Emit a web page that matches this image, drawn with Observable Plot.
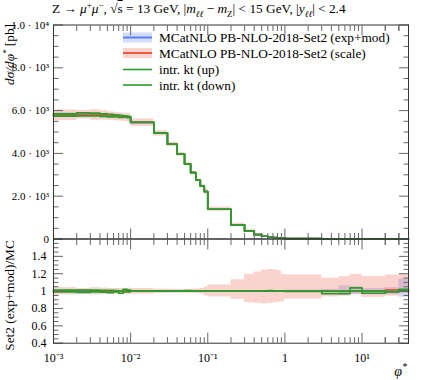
<!DOCTYPE html>
<html><head><meta charset="utf-8">
<script src="https://cdn.jsdelivr.net/npm/d3@7"></script>
<script src="https://cdn.jsdelivr.net/npm/@observablehq/plot@0.6"></script>
<style>
body{margin:0;background:#fff;}
#wrap{position:relative;width:421px;height:380px;font-family:"Liberation Serif",serif;color:#000;overflow:hidden;}
#wrap > *{position:absolute;left:0;}
#title{top:1px;left:52px;font-size:13.3px;white-space:nowrap;line-height:16px;}
#title sub,#title sup{font-size:9px;line-height:0;}
</style></head><body>
<div id="wrap"><div id="title">Z → <i>μ</i><sup>+</sup><i>μ</i><sup>−</sup>, √<span style="text-decoration:overline">s</span> = 13 GeV, |<i>m</i><sub><i>ℓℓ</i></sub> − <i>m</i><sub>Z</sub>| &lt; 15 GeV, |<i>y</i><sub><i>ℓℓ</i></sub>| &lt; 2.4</div></div>
<script>
// ---- data ----
const edges = [0.001,0.002,0.003,0.004,0.005,0.006,0.007,0.008,0.009,0.01,0.02,0.03,0.04,0.05,0.06,0.07,0.08,0.09,0.1,0.2,0.3,0.4,0.5,0.6,0.7,0.8,0.9,1,3,5,7,10,20,30,40];
const mcMain    = [5800,5830,5810,5790,5770,5745,5725,5705,5685,5450,4950,4430,3970,3500,3100,2750,2480,2220,1390,656,375,200,128,92,70,55,44,18,5,2,1,0.4,0.12,0.06];
const scaleMain = [5800,5840,5810,5790,5760,5740,5720,5710,5690,5450,4950,4430,3970,3500,3100,2750,2480,2220,1390,656,375,200,128,92,70,55,44,18,5,2,1,0.4,0.12,0.06];
const upMain    = [5850,5900,5880,5850,5820,5800,5780,5760,5730,5455,4955,4432,3972,3505,3102,2752,2482,2220,1390,656,375,200,128,92,70,55,44,18,5,2,1.04,0.4,0.12,0.06];
const downMain  = [5740,5750,5750,5730,5710,5700,5680,5690,5670,5445,4945,4428,3968,3500,3098,2748,2478,2218,1390,656,375,200,128,92,70,55,44,18,4.9,1.95,1,0.39,0.12,0.06];
// ratio panel (to MC central)
const scaleLo = [0.955,0.962,0.955,0.96,0.962,0.962,0.962,0.962,0.962,0.965,0.972,0.975,0.975,0.975,0.975,0.972,0.965,0.945,0.933,0.904,0.867,0.86,0.852,0.86,0.865,0.872,0.878,0.908,0.933,0.941,0.963,0.927,0.941,0.97];
const scaleHi = [1.04,1.03,1.04,1.035,1.03,1.03,1.03,1.03,1.035,1.03,1.022,1.02,1.02,1.02,1.022,1.025,1.03,1.045,1.071,1.13,1.193,1.219,1.241,1.249,1.245,1.235,1.193,1.186,1.148,1.167,1.193,1.167,1.186,1.193];
const expLo = [0.985,0.992,0.992,0.992,0.993,0.993,0.993,0.993,0.993,0.995,0.995,0.995,0.995,0.995,0.995,0.995,0.995,0.995,0.995,0.995,0.995,0.995,0.995,0.995,0.995,0.995,0.995,0.99,0.98,0.95,0.96,0.97,0.96,0.93];
const expHi = [1.015,1.008,1.008,1.008,1.007,1.007,1.007,1.007,1.007,1.005,1.005,1.005,1.005,1.005,1.005,1.005,1.005,1.005,1.005,1.005,1.005,1.005,1.005,1.005,1.005,1.005,1.005,1.01,1.02,1.06,1.05,1.03,1.04,1.14];
const mcRatio    = [1,1,1,1,1,1,1,1,1,1,1,1,1,1,1,1,1,1,1,1,1,1,1,1,1,1,1,1,1,1,1,1,1,1];
const scaleRatio = [1.0,1.007,1.0,1.0,0.998,1.0,1.0,1.005,1.007,1,1,1,1,1,1,1,1,1,1,1,1,1,1,1,1,1,1,1,1,1,1,1,1.015,1.0];
const upRatio   = [1.012,1.012,1.012,1.01,1.008,1.006,1.0,1.02,1.012,1.002,1.002,1.0,1.002,1.005,1.004,1.0,1.0,1.0,1.0,1.0,1.0,1.0,1.003,1.005,1.0,1.0,1.0,1.0,1.0,1.0,1.038,1.0,0.995,1.02];
const downRatio = [0.99,0.985,0.99,0.988,0.982,0.99,0.975,0.99,0.992,0.998,0.998,1.0,0.998,1.0,0.998,0.998,1.0,0.998,0.998,0.998,0.998,0.998,0.998,1.0,1.0,0.998,0.998,0.997,0.97,0.97,1.0,0.975,0.99,1.0];
// ticks
const xMajor = [0.001,0.01,0.1,1,10];
const xMajorLabels = ["10⁻³","10⁻²","10⁻¹","1","10¹"];
const yMainTicks = [0,2000,4000,6000,8000,10000];
const yMainLabels = ["0","2.0 · 10³","4.0 · 10³","6.0 · 10³","8.0 · 10³","1.0 · 10⁴"];
const yRatioTicks = [0.4,0.6,0.8,1,1.2,1.4,1.6];
const yRatioLabels = ["0.4","0.6","0.8","1","1.2","1.4",""];

// ---- styling ----
const W = 421, ML = 53, MR = 13;
const FONT = "Liberation Serif, serif";
const xDomain = [0.001, 40];
const cBlue = "#5b7ff0", cRed = "#ee5a3f", cGreen = "#2e9a2e";
const fBlue = "rgba(80,120,240,0.25)", fRed = "rgba(240,80,60,0.25)";
const tickCol = "#666";
const xMinor = [];
for (const d of xMajor) for (let k = 2; k <= 9; k++) { const v = +(k*d).toPrecision(3); if (v <= 40) xMinor.push(v); }
xMinor.push(20,30,40);
const yMainMinor = d3.range(0, 10001, 500).filter(v => v % 2000);
const yRatioMinor = d3.range(0.4, 1.6001, 0.05).map(v => +v.toFixed(2)).filter(v => Math.abs(v/0.2 - Math.round(v/0.2)) > 1e-6);

const bins = edges.slice(0, -1).map((e, i) => ({x1: e, x2: edges[i+1], i}));
const steps = vals => edges.map((e, i) => ({x: e, y: vals[Math.min(i, vals.length - 1)]}));

function tickAxes(yMaj, yMin) {
  const o = {tickFormat: () => "", label: null, stroke: tickCol};
  return [
    Plot.axisX(xMajor, {...o, anchor: "bottom", tickSize: -10}),
    Plot.axisX(xMinor, {...o, anchor: "bottom", tickSize: -5.5}),
    Plot.axisX(xMajor, {...o, anchor: "top", tickSize: -10}),
    Plot.axisX(xMinor, {...o, anchor: "top", tickSize: -5.5}),
    Plot.axisY(yMaj, {...o, anchor: "left", tickSize: -10}),
    Plot.axisY(yMin, {...o, anchor: "left", tickSize: -5.5}),
    Plot.axisY(yMaj, {...o, anchor: "right", tickSize: -10}),
    Plot.axisY(yMin, {...o, anchor: "right", tickSize: -5.5})
  ];
}

const main = Plot.plot({
  width: W, height: 240, marginLeft: ML, marginRight: MR, marginTop: 24.5, marginBottom: 1.5,
  x: {type: "log", domain: xDomain},
  y: {domain: [0, 10000]},
  style: {fontFamily: FONT, fontSize: "11px", background: "transparent", overflow: "visible"},
  marks: [
    Plot.rect(bins, {x1: "x1", x2: "x2", y1: d => mcMain[d.i]*expLo[d.i], y2: d => mcMain[d.i]*expHi[d.i], fill: fBlue}),
    Plot.rect(bins, {x1: "x1", x2: "x2", y1: d => mcMain[d.i]*scaleLo[d.i], y2: d => mcMain[d.i]*scaleHi[d.i], fill: fRed}),
    Plot.line(steps(mcMain), {x: "x", y: "y", curve: "step-after", stroke: cBlue, strokeWidth: 1.7}),
    Plot.line(steps(scaleMain), {x: "x", y: "y", curve: "step-after", stroke: cRed, strokeWidth: 1.7}),
    Plot.line(steps(upMain), {x: "x", y: "y", curve: "step-after", stroke: cGreen, strokeWidth: 1.7}),
    Plot.line(steps(downMain), {x: "x", y: "y", curve: "step-after", stroke: cGreen, strokeWidth: 1.7}),
    ...tickAxes(yMainTicks, yMainMinor),
    Plot.axisY(yMainTicks, {anchor: "left", tickSize: 0, tickPadding: 4.5, label: null, fontSize: 11, fontFamily: FONT,
      tickFormat: d => yMainLabels[yMainTicks.indexOf(d)]}),
    Plot.frame({stroke: "#333"})
  ]
});

const ratio = Plot.plot({
  width: W, height: 142, marginLeft: ML, marginRight: MR, marginTop: 0.5, marginBottom: 37.3,
  x: {type: "log", domain: xDomain},
  y: {domain: [0.4, 1.6]},
  style: {fontFamily: FONT, fontSize: "11px", background: "transparent", overflow: "visible"},
  marks: [
    Plot.rect(bins, {x1: "x1", x2: "x2", y1: d => expLo[d.i], y2: d => expHi[d.i], fill: fBlue}),
    Plot.rect(bins, {x1: "x1", x2: "x2", y1: d => scaleLo[d.i], y2: d => scaleHi[d.i], fill: fRed}),
    Plot.line(steps(mcRatio), {x: "x", y: "y", curve: "step-after", stroke: cBlue, strokeWidth: 1.7}),
    Plot.line(steps(scaleRatio), {x: "x", y: "y", curve: "step-after", stroke: cRed, strokeWidth: 1.7}),
    Plot.line(steps(upRatio), {x: "x", y: "y", curve: "step-after", stroke: cGreen, strokeWidth: 1.7}),
    Plot.line(steps(downRatio), {x: "x", y: "y", curve: "step-after", stroke: cGreen, strokeWidth: 1.7}),
    ...tickAxes(yRatioTicks, yRatioMinor),
    Plot.axisY(yRatioTicks, {anchor: "left", tickSize: 0, tickPadding: 7, label: null, fontSize: 12, fontFamily: FONT,
      tickFormat: d => yRatioLabels[yRatioTicks.indexOf(d)]}),
    Plot.axisX(xMajor, {anchor: "bottom", tickSize: 0, tickPadding: 10, label: null, fontSize: 12, fontFamily: FONT,
      tickFormat: d => xMajorLabels[xMajor.indexOf(d)]}),
    Plot.frame({stroke: "#333"})
  ]
});

const wrap = document.getElementById("wrap");
main.style.top = "0px";
ratio.style.top = "238px";
wrap.appendChild(main);
wrap.appendChild(ratio);

// overlay: axis titles and legend
const legendEntries = ["MCatNLO PB-NLO-2018-Set2 (exp+mod)", "MCatNLO PB-NLO-2018-Set2 (scale)", "intr. kt (up)", "intr. kt (down)"];
const legendLine = [cBlue, cRed, cGreen, cGreen];
const legendBand = [fBlue, fRed, null, null];
const legY = [37.5, 53, 69.5, 85];
const ov = d3.create("svg").attr("width", W).attr("height", 380)
  .style("top", "0px").style("pointer-events", "none")
  .attr("font-family", FONT);
const lg = ov.append("g");
legendEntries.forEach((t, i) => {
  if (legendBand[i]) lg.append("rect").attr("x", 123).attr("y", legY[i] - 5).attr("width", 29).attr("height", 10).attr("fill", legendBand[i]);
  lg.append("line").attr("x1", 123).attr("x2", 152).attr("y1", legY[i]).attr("y2", legY[i]).attr("stroke", legendLine[i]).attr("stroke-width", i < 2 ? 2 : 1.6);
  lg.append("text").attr("x", 159).attr("y", legY[i] + 4.5).attr("font-size", 13.3).text(t);
});
const yl = ov.append("text").attr("transform", "translate(14,24) rotate(-90)").attr("text-anchor", "end").attr("font-size", 13.3);
yl.append("tspan").attr("font-style", "italic").text("dσ/dφ");
yl.append("tspan").attr("font-style", "italic").attr("dy", -5).attr("font-size", 9).text("*");
yl.append("tspan").attr("dy", 5).text(" [pb]");
ov.append("text").attr("transform", "translate(14,295.5) rotate(-90)").attr("text-anchor", "middle").attr("font-size", 13.3).text("Set2 (exp+mod)/MC");
const xl = ov.append("text").attr("x", 407).attr("y", 376).attr("text-anchor", "end").attr("font-size", 14).attr("font-style", "italic");
xl.append("tspan").text("φ");
xl.append("tspan").attr("dy", -6).attr("font-size", 10).text("*");
wrap.appendChild(ov.node());
</script>
</body></html>
